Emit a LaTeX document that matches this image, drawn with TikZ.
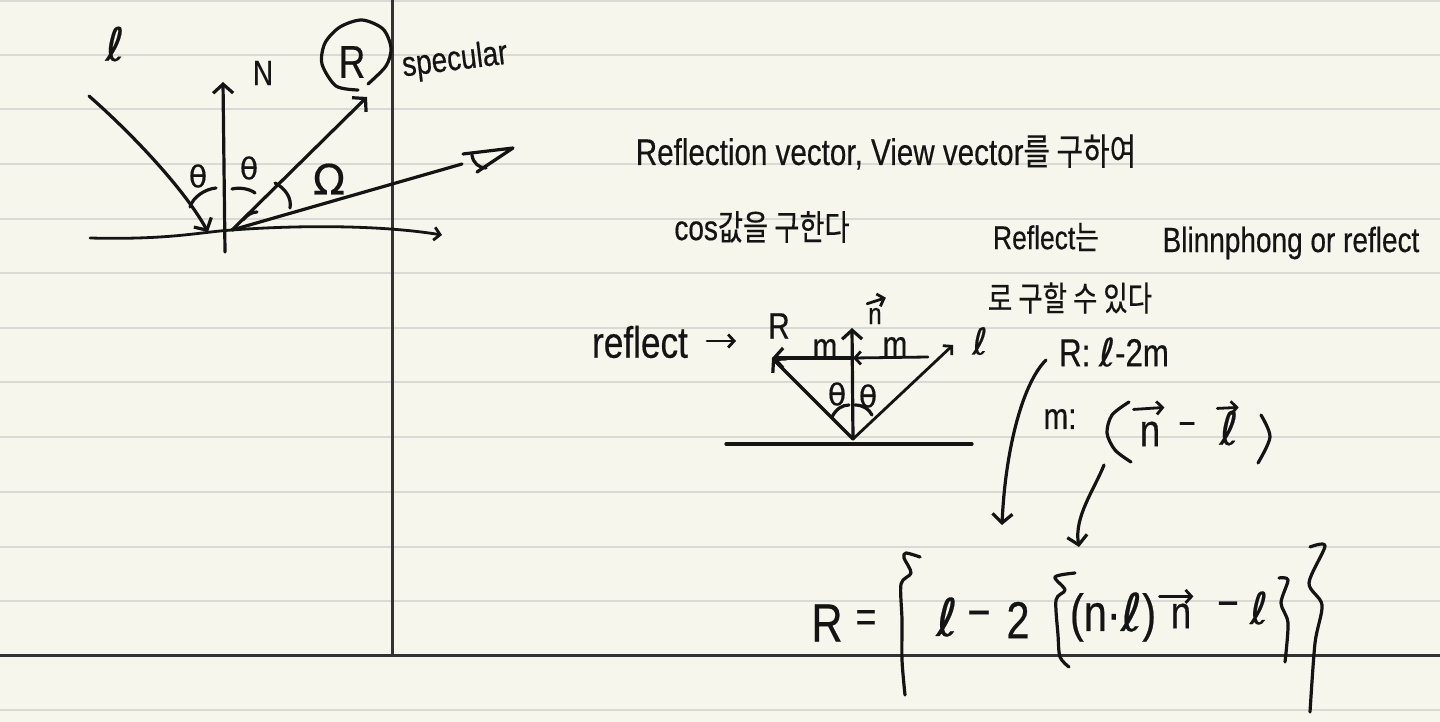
\documentclass[tikz,border=0pt]{standalone}
\usepackage{fontspec}
\usetikzlibrary{arrows.meta,calc}
\setmainfont[FakeStretch=0.8,FakeBold=0.4]{Liberation Sans}
\newfontfamily\krfont[FakeStretch=0.78,FakeBold=0.3]{Noto Sans CJK KR}
\newfontfamily\symfont[FakeBold=0.4]{DejaVu Sans}
\newcommand{\hell}{{\symfont ℓ}}
\definecolor{paper}{RGB}{246,246,236}
\definecolor{rule}{RGB}{218,218,213}
\definecolor{ink}{RGB}{20,20,20}

\begin{document}
\begin{tikzpicture}[x=1pt, y=-1pt,
pen/.style={draw=ink, line width=3.2pt, line cap=round, line join=round},
arrow/.style={pen, -{Straight Barb[length=9pt, width=20pt, line width=3.2pt]}},
smallarrow/.style={pen, line width=2.8pt, -{Straight Barb[length=6pt, width=13pt, line width=2.8pt]}},
str/.style={inner sep=0pt, text=ink, font=\fontsize{37}{40}\selectfont},
mid/.style={str, font=\fontsize{35}{38}\selectfont},
small/.style={str, font=\fontsize{30}{32}\selectfont}]

	\useasboundingbox (0,0) rectangle (1440,722);
	\fill[paper] (0,0) rectangle (1440,722);
	\foreach \y in {1,55,109,164,219,273,328,382,437,492,547,601,710}
		\draw[rule, line width=2.4pt] (0,\y) -- (1440,\y);
	\draw[black!80, line width=2.2pt] (0,655.5) -- (1440,655.5);
	\draw[black!80, line width=2.2pt] (392.5,0) -- (392.5,655.5);

	% left sketch
	\node[str, font=\fontsize{46}{48}\selectfont] (lt) at (115,44) {\hell};
	\node[mid] (nt) at (263,73) {N};
	\node[str, font=\fontsize{46}{48}\selectfont] (rt) at (352,62) {R};
	\node[mid, rotate=7] (spec) at (455,61) {specular};
	\node[small] (tha) at (198,176) {\symfont θ};
	\node[small] (thb) at (249,168) {\symfont θ};
	\node[str, font=\fontsize{42}{44}\selectfont] (om) at (329,179) {\symfont Ω};

	\coordinate (hit) at (232,230);
	\coordinate (lfrom) at (89,96);
	\coordinate (lhit) at (208,232);
	\coordinate (ntail) at (225,252);
	\coordinate (ntip) at (223,82);
	\coordinate (rtip) at (367,97);
	\coordinate (vend) at (462,164);
	\coordinate (gfrom) at (90,238);
	\coordinate (gtip) at (442,235);

	\draw[arrow] (lfrom) .. controls +(40,35) and +(-25,-45) .. (lhit);
	\draw[arrow] (ntail) -- (ntip);
	\draw[arrow] (hit) -- (rtip);
	\draw[pen] (hit) -- (vend);
	\draw[smallarrow] (gfrom) .. controls (170,240) and (200,232) .. (hit) .. controls (300,225) and (380,225) .. (gtip);
	\draw[pen] plot[smooth] coordinates {(368,84) (386,66) (391,48) (383,29) (362,20) (340,27) (325,43) (322,64) (336,86) (358,90)};
	\draw[pen] (463,154) -- (513,148) -- (477,172);
	\draw[pen] (472,155) .. controls (473,163) and (479,168) .. (486,168);
	\draw[pen] (190,207) .. controls (193,197) and (205,189) .. (216,188);
	\draw[pen] (232,189) .. controls (240,187) and (250,189) .. (255,193);
	\draw[pen] (275,183) .. controls (285,188) and (292,198) .. (290,208);
	\draw[pen] (243,220) .. controls (247,215) and (252,212) .. (257,212);

	% note text
	\node[str] (refl) at (886,152) {Reflection vector, View vector{\krfont 를 구하여}};
	\node[mid] (cos) at (762,227) {cos{\krfont 값을 구한다}};
	\node[str, font=\fontsize{33}{36}\selectfont] (rfl) at (1046,237) {Reflect{\krfont 는}};
	\node[mid] (blinn) at (1291,243) {Blinnphong or reflect};
	\node[mid, font=\fontsize{34}{36}\selectfont] (can) at (1070,298) {\krfont 로 구할 수 있다};
	\node[str, font=\fontsize{44}{46}\selectfont] (rflb) at (640,342) {reflect};
	\node[str] (rb) at (779,326) {R};
	\node[small] (nb) at (875,316) {n};
	\node[str] (lb) at (980,341) {\hell};
	\node[str] (ma) at (825,349) {m};
	\node[str] (mb) at (895,347) {m};
	\node[small] (tc) at (837,394) {\symfont θ};
	\node[small] (td) at (868,396) {\symfont θ};
	\node[str, font=\fontsize{39}{42}\selectfont] (rdef) at (1114,352) {R: \hell-2m};
	\node[str] (mdef) at (1060,419) {m:};
	\node[str, font=\fontsize{46}{48}\selectfont] (nc) at (1150,434) {n};
	\node[str] (minus) at (1187,429) {−};
	\node[str, font=\fontsize{46}{48}\selectfont] (lc) at (1229,428) {\hell};

	\coordinate (rarrowa) at (707,341);
	\coordinate (rarrowb) at (736,341);
	\coordinate (base) at (853,439);
	\coordinate (ntop) at (852,328);
	\coordinate (ltip) at (953,345);
	\coordinate (rtop) at (772,358);
	\coordinate (mmid) at (853,358);
	\coordinate (mend) at (928,357);
	\coordinate (grounda) at (726,444);
	\coordinate (groundb) at (972,444);

	\draw[smallarrow] (rarrowa) -- (rarrowb);
	\draw[arrow] (base) -- (ntop);
	\draw[arrow] (base) -- (rtop);
	\draw[smallarrow] (base) -- (ltip);
	\draw[arrow] (mmid) -- (rtop);
	\draw[smallarrow] (mend) -- (mmid);
	\draw[pen] (grounda) -- (groundb);
	\draw[pen] (832,417) .. controls (836,409) and (842,405) .. (849,405);
	\draw[pen] (855,405) .. controls (863,405) and (869,409) .. (872,415);
	\draw[smallarrow] ($(nb.north west)+(-1,-4)$) -- ($(nb.north east)+(4,-10)$);
	\draw[smallarrow] ($(nc.north west)+(-6,-12)$) -- ($(nc.north east)+(4,-14)$);
	\draw[smallarrow] ($(lc.north west)+(-2,-2)$) -- ($(lc.north east)+(0,-3)$);
	\draw[pen] plot[smooth] coordinates {(1129,402) (1112,415) (1107,433) (1115,450) (1131,462)};
	\draw[pen] plot[smooth] coordinates {(1261,415) (1270,437) (1258,463)};

	% curved pointers
	\coordinate (pa) at (1046,360);
	\coordinate (pb) at (1002,525);
	\coordinate (pc) at (1104,465);
	\coordinate (pd) at (1079,547);
	\draw[arrow] (pa) .. controls +(-25,25) and +(3,-70) .. (pb);
	\draw[arrow] (pc) .. controls +(-10,25) and +(-5,-30) .. (pd);

	% formula
	\node[str, font=\fontsize{54}{56}\selectfont] (rf) at (827,623) {R};
	\node[str, font=\fontsize{44}{46}\selectfont] (eqf) at (866,621) {=};
	\node[str, font=\fontsize{52}{54}\selectfont] (lf) at (947,617) {\hell};
	\node[str, font=\fontsize{50}{52}\selectfont] (mf) at (979,620) {−};
	\node[str, font=\fontsize{52}{54}\selectfont] (tf) at (1018,620) {2};
	\node[str, font=\fontsize{52}{54}\selectfont] (dotf) at (1113,617) {(n·\hell)};
	\node[str, font=\fontsize{46}{48}\selectfont] (nf) at (1181,616) {n};
	\node[str, font=\fontsize{46}{48}\selectfont] (mg) at (1228,610) {−};
	\node[str, font=\fontsize{44}{46}\selectfont] (lg) at (1259,608) {\hell};
	\draw[smallarrow] ($(nf.north west)+(-11,-7)$) -- ($(nf.north east)+(2,-7)$);

	\draw[pen] plot[smooth] coordinates {(920,557) (906,553) (904,558) (911,573) (901,584) (902,620) (902,660) (905,695)};
	\draw[pen] plot[smooth] coordinates {(1075,573) (1055,577) (1065,590) (1056,600) (1058,635) (1060,657) (1069,667)};
	\draw[pen] plot[smooth] coordinates {(1279,578) (1288,580) (1281,603) (1288,623) (1285,662)};
	\draw[pen] plot[smooth] coordinates {(1310,547) (1325,546) (1309,583) (1322,605) (1315,643) (1310,712)};
\end{tikzpicture}
\end{document}
